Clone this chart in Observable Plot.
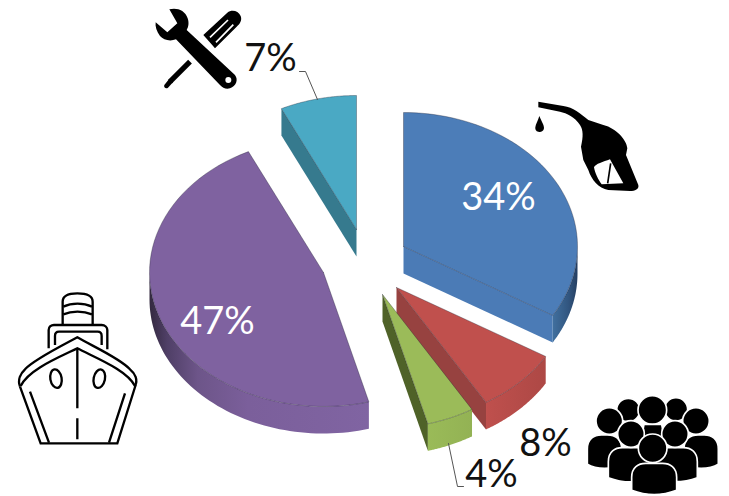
<!DOCTYPE html>
<html>
<head>
<meta charset="utf-8">
<style>
html,body{margin:0;padding:0;background:#fff}
svg{display:block}
</style>
<script src="https://cdn.jsdelivr.net/npm/d3@7"></script>
<script src="https://cdn.jsdelivr.net/npm/@observablehq/plot@0.6"></script>
</head>
<body>
<div id="chart"></div>
<script>
// Data: shares; labels show them rounded
const categories = ["Fuel", "Crew", "Other", "Ship", "Maintenance"];
const shares = [33.6, 7.8, 4.4, 47.1, 7.1];

// Appearance and layout (separate from the data)
const topColors = ["#4c7db8", "#c0504d", "#9bbb59", "#7f62a0", "#4aa9c4"];
const wallColors = ["#4b7bb6", "#974240", "#4f6228", "#7f62a0", "#367a8e"];
const apexes = [[403, 246], [396, 287], [382, 294], [323, 272], [356, 229]];
const labelAt = [[498, 197], [545, 443], [491, 474], [217, 321], [270, 58]];
const labelColors = ["#fff", "#111", "#111", "#fff", "#111"];
const RX = 174, RY = 134, DEPTH = 27;

const arcs = d3.pie().sort(null).value(d => d)(shares);
const rad = d => d * Math.PI / 180;
const rim = (i, a, drop = 0) => ({
  x: apexes[i][0] + RX * Math.sin(a),
  y: apexes[i][1] - RY * Math.cos(a) + drop
});
const sweep = (i, a0, a1, drop = 0) =>
  d3.range(0, 61).map(k => rim(i, a0 + (a1 - a0) * k / 60, drop));
const apex = (i, drop = 0) => ({x: apexes[i][0], y: apexes[i][1] + drop});

const face = (pts, fill, extra = {}) =>
  Plot.line(pts, {x: "x", y: "y", fill, stroke: "none", curve: "linear", ...extra});

const marks = [];

// Gradients for the outer walls
marks.push(() => {
  const s = d3.create("svg:g");
  const defs = s.append("defs");
  const grad = (id, x0, x1, stops) => {
    const g = defs.append("linearGradient").attr("id", id)
      .attr("gradientUnits", "userSpaceOnUse")
      .attr("x1", x0).attr("x2", x1).attr("y1", 0).attr("y2", 0);
    stops.forEach(([o, c]) => g.append("stop").attr("offset", o).attr("stop-color", c));
  };
  grad("gBlue", 552, 579, [[0, "#41709f"], [0.6, "#31557f"], [1, "#22395a"]]);
  grad("gPurple", 149, 368, [[0, "#33293f"], [0.08, "#4f3f66"], [0.22, "#6d5589"], [0.45, "#7b5f9b"], [1, "#8064a2"]]);
  grad("gRed", 485, 546, [[0, "#bf504d"], [1, "#ad4845"]]);
  grad("gGreen", 426, 472, [[0, "#9abb58"], [1, "#93b254"]]);
  return s.node();
});

// Straight side walls seen from the front
[0, 1, 2, 4].forEach(i => {
  const a = i === 4 ? arcs[i].startAngle : arcs[i].endAngle;
  marks.push(face([apex(i), rim(i, a), rim(i, a, DEPTH), apex(i, DEPTH)], wallColors[i]));
});

// Curved outer walls
const wallFill = ["url(#gBlue)", "url(#gRed)", "url(#gGreen)", "url(#gPurple)"];
[
  [0, rad(90), arcs[0].endAngle],
  [1, arcs[1].startAngle, arcs[1].endAngle],
  [2, arcs[2].startAngle, arcs[2].endAngle],
  [3, arcs[3].startAngle, rad(270)]
].forEach(([i, a0, a1], n) => {
  marks.push(face([...sweep(i, a0, a1), ...sweep(i, a1, a0, DEPTH)], wallFill[n]));
});

// Top faces
arcs.forEach((arc, i) => {
  marks.push(face([apex(i), ...sweep(i, arc.startAngle, arc.endAngle), apex(i)], topColors[i], {
    stroke: "#1c1c2a", strokeOpacity: 0.55, strokeWidth: 0.6
  }));
});

// Leader lines
const leaders = [
  [{x: 299, y: 71}, {x: 305, y: 71}, {x: 317, y: 99}],
  [{x: 448, y: 443}, {x: 457, y: 486}, {x: 463, y: 486}]
];
leaders.forEach(l => marks.push(Plot.line(l, {x: "x", y: "y", stroke: "#555", strokeWidth: 1, curve: "linear"})));

// Percentage labels
marks.push(Plot.text(shares.map((s, i) => ({label: `${Math.round(s)}%`, i})), {
  x: d => labelAt[d.i][0],
  y: d => labelAt[d.i][1],
  text: "label",
  fill: d => labelColors[d.i],
  fontSize: 38,
  fontFamily: "Lato, 'Open Sans', sans-serif",
  textAnchor: "middle",
  lineAnchor: "middle"
}));

// Icons
function body(x0, x1, y, yb) {
  return `<path d="M${x0},${yb - 12} L${x0},${y + 42} C${x0},${y + 12} ${x0 + 20},${y} ${x0 + 42},${y} L${x1 - 42},${y} C${x1 - 20},${y} ${x1},${y + 12} ${x1},${y + 42} L${x1},${yb - 12} C${(x0 + x1) / 2 + 25},${yb + 4} ${(x0 + x1) / 2 - 25},${yb + 4} ${x0},${yb - 12} Z"/>`;
}
const iconMarkup = `
<g transform="translate(140,0) scale(0.3333)" fill="#000">
  <path d="M88,28 C110,22 135,30 143,55 C148,70 145,82 140,90 L285,225 C296,240 288,258 270,265 C258,268 248,264 240,255 L108,118 C90,125 70,120 60,108 C50,95 45,80 47,67 L82,97 L112,70 Z"/>
  <circle cx="265" cy="240" r="9" fill="#fff"/>
  <path d="M190,105 L262,38 C275,28 295,32 302,48 C307,60 300,72 290,80 L225,145 L212,130 Z"/>
  <path d="M210,112 L264,60 M228,127 L280,74" stroke="#fff" stroke-width="5" fill="none"/>
  <path d="M150,185 L90,245" stroke="#000" stroke-width="16" fill="none"/>
  <path d="M88,236 L99,247 L84,263 C78,268 70,262 73,255 Z"/>
</g>
<g transform="translate(520,90) scale(0.3333)" fill="#000">
  <path d="M55,35 L130,48 C160,52 180,70 205,90 L250,105 C290,115 320,150 322,175 L318,195 L355,285 C358,298 345,303 330,303 L265,300 C235,295 215,270 205,240 L190,210 L183,170 C190,140 190,120 180,105 C165,80 140,70 120,65 L55,52 Z"/>
  <path d="M222,232 C226,222 250,215 270,208 L310,280 L245,283 C235,270 225,250 222,232 Z" fill="#fff"/>
  <path d="M272,220 L263,280" stroke="#000" stroke-width="5" fill="none"/>
  <path d="M58,78 C65,95 72,105 72,113 C72,122 64,126 58,126 C50,126 45,120 46,112 C47,102 54,92 58,78 Z"/>
</g>
<g transform="translate(0,280) scale(0.3333)" fill="none" stroke="#000" stroke-width="7">
  <path d="M188,133 L188,65 C188,45 210,40 232,40 C255,40 278,45 278,65 L278,133"/>
  <path d="M190,80 C215,68 250,68 276,80 M190,103 C215,92 250,92 276,103"/>
  <path d="M146,205 L146,150 C146,140 154,135 162,135 L305,135 C315,135 322,142 322,150 L322,208"/>
  <path d="M165,195 L165,168 C165,160 170,155 177,155 L293,155 C300,155 305,160 305,168 L305,195"/>
  <path d="M60,320 C52,300 62,280 75,268 C100,240 180,200 232,172 C280,200 360,235 390,268 C405,280 415,300 405,318"/>
  <path d="M62,318 C85,270 170,235 232,205 C290,235 380,270 405,318"/>
  <path d="M60,320 L122,490 L352,490 L407,315"/>
  <path d="M90,335 L147,488 M375,340 L327,488"/>
  <path d="M232,205 L232,385 M232,415 L232,478"/>
  <ellipse cx="168" cy="296" rx="17" ry="28" transform="rotate(-10 168 296)"/>
  <ellipse cx="298" cy="296" rx="17" ry="28" transform="rotate(12 298 296)"/>
</g>
<g transform="translate(570,385) scale(0.3333)" fill="#000" stroke="#fff" stroke-width="5">
  <circle cx="175" cy="75" r="35"/>
  <circle cx="318" cy="73" r="35"/>
  <circle cx="247" cy="75" r="43"/>
  <path d="M222,118 L275,118 L285,170 L212,170 Z"/>
  ${body(52, 155, 150, 250)}
  ${body(342, 445, 150, 250)}
  <circle cx="118" cy="108" r="40"/>
  <circle cx="378" cy="108" r="40"/>
  ${body(115, 250, 188, 290)}
  ${body(248, 382, 188, 290)}
  <circle cx="183" cy="147" r="40"/>
  <circle cx="315" cy="147" r="40"/>
  ${body(185, 320, 235, 328)}
  <circle cx="248" cy="190" r="43"/>
</g>`;
marks.push(() => {
  const g = d3.create("svg:g");
  g.html(iconMarkup);
  return g.node();
});

const chart = Plot.plot({
  width: 729,
  height: 496,
  margin: 0,
  x: {type: "linear", domain: [0, 729], range: [0, 729], axis: null},
  y: {type: "linear", domain: [0, 496], range: [0, 496], axis: null},
  style: {background: "#fff"},
  marks
});
document.getElementById("chart").append(chart);
</script>
</body>
</html>
